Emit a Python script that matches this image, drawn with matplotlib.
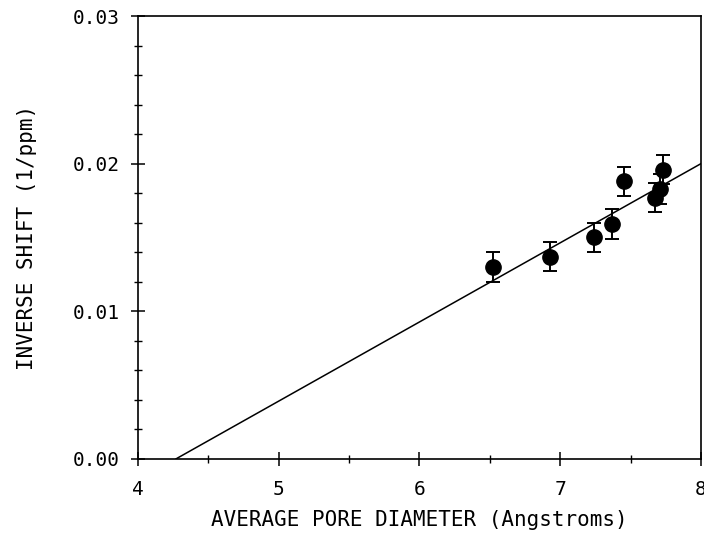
import matplotlib
matplotlib.use("Agg")
import matplotlib.pyplot as plt
from matplotlib.ticker import MultipleLocator, FormatStrFormatter

# values
pore_diameter = [6.52, 6.93, 7.24, 7.37, 7.45, 7.67, 7.71, 7.73]
inverse_shift = [0.0130, 0.0137, 0.0150, 0.0159, 0.0188, 0.0177, 0.0183, 0.0196]
shift_error = [0.0010, 0.0010, 0.0010, 0.0010, 0.0010, 0.0010, 0.0010, 0.0010]

# fitted straight line, end points as seen in the figure
fit_x = [4.27, 8.0]
fit_y = [0.0, 0.0200]

plt.rcParams["font.family"] = ["DejaVu Sans Mono"]

fig = plt.figure(figsize=(7.04, 5.45), dpi=100)
ax = fig.add_axes([0.196, 0.158, 0.7997, 0.8126])

ax.plot(fit_x, fit_y, color="black", linewidth=1.1)
ax.errorbar(
    pore_diameter,
    inverse_shift,
    yerr=shift_error,
    fmt="o",
    color="black",
    markersize=11,
    elinewidth=1.4,
    capsize=5,
    capthick=1.4,
)

ax.set_xlim(4, 8)
ax.set_ylim(0, 0.03)
ax.xaxis.set_major_locator(MultipleLocator(1))
ax.xaxis.set_minor_locator(MultipleLocator(0.5))
ax.yaxis.set_major_locator(MultipleLocator(0.01))
ax.yaxis.set_minor_locator(MultipleLocator(0.002))
ax.yaxis.set_major_formatter(FormatStrFormatter("%.2f"))

ax.tick_params(which="major", direction="inout", length=10, width=1.1, labelsize=14, pad=8)
ax.tick_params(which="minor", direction="inout", length=6, width=1.0)
ax.tick_params(axis="x", which="major", pad=10)

for spine in ax.spines.values():
    spine.set_linewidth(1.2)

ax.set_xlabel("AVERAGE PORE DIAMETER (Angstroms)", fontsize=15, labelpad=8)
ax.set_ylabel("INVERSE SHIFT (1/ppm)", fontsize=15, labelpad=26)

fig.savefig("out.png", dpi=100)
